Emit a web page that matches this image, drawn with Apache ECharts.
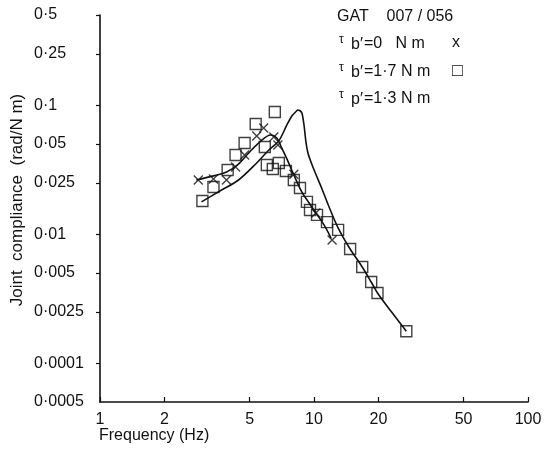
<!DOCTYPE html>
<html>
<head>
<meta charset="utf-8">
<script src="https://cdn.jsdelivr.net/npm/echarts@6/dist/echarts.min.js"></script>
<style>
  html, body { margin: 0; padding: 0; background: #fff; }
  #chart { width: 551px; height: 450px; }
</style>
</head>
<body>
<div id="chart"></div>
<script>
// tick values and the labels printed in the figure (0.001 is printed as 0·0001)
const xTicks = [1, 2, 5, 10, 20, 50, 100];
const yTicks = [0.0005, 0.001, 0.0025, 0.005, 0.01, 0.025, 0.05, 0.1, 0.25, 0.5];
const yTickLabels = ['0·0005', '0·0001', '0·0025', '0·005', '0·01', '0·025', '0·05', '0·1', '0·25', '0·5'];

// tau b' = 0 Nm (crosses)
const crossFreq = [2.88, 3.39, 3.90, 4.30, 4.74, 5.40, 5.82, 6.49, 6.78, 8.05, 10.2, 12.15];
const crossComp = [0.0263, 0.0268, 0.0263, 0.0332, 0.0411, 0.0577, 0.0665, 0.0566, 0.0491, 0.0292, 0.0146, 0.0090];

// tau b' = 1.7 Nm (squares)
const squareFreq = [3.01, 3.39, 3.95, 4.30, 4.74, 5.34, 6.56, 5.89, 6.02, 6.42, 6.85, 7.39, 8.05, 8.60, 9.27, 9.58, 10.33, 11.5, 12.96, 14.75, 16.8, 18.5, 19.8, 27.0];
const squareComp = [0.0181, 0.0232, 0.0314, 0.0411, 0.0509, 0.0714, 0.0885, 0.0474, 0.0344, 0.0320, 0.0356, 0.0309, 0.0263, 0.0228, 0.0178, 0.0154, 0.0141, 0.0124, 0.0108, 0.00767, 0.00557, 0.00426, 0.0035, 0.00177];

// fitted curves
const curveAFreq = [2.82, 3.39, 3.90, 4.44, 4.95, 5.64, 6.28, 6.70, 7.00, 7.47, 8.05, 8.78, 9.47, 10.2, 11.14, 12.02];
const curveAComp = [0.0263, 0.0283, 0.0303, 0.0350, 0.0426, 0.0527, 0.0587, 0.0557, 0.0482, 0.0383, 0.0288, 0.0212, 0.0175, 0.0146, 0.0118, 0.0093];
const curveBFreq = [2.98, 3.70, 4.44, 5.34, 6.15, 6.85, 7.47, 7.88, 8.23, 8.41, 8.60, 8.78, 8.98, 9.17, 9.37, 9.68, 10.1, 10.9, 11.75, 12.96, 14.75, 16.8, 18.5, 19.8, 23.0, 27.0];
const curveBComp = [0.0178, 0.0220, 0.0263, 0.0350, 0.0449, 0.0530, 0.0702, 0.0824, 0.0890, 0.0917, 0.0905, 0.0869, 0.0702, 0.0518, 0.0426, 0.0363, 0.0303, 0.0224, 0.0163, 0.0112, 0.00767, 0.00557, 0.00426, 0.0035, 0.0025, 0.00177];

const zip = (a, b) => a.map((v, i) => [v, b[i]]);
const FONT = 'Liberation Sans';
const INK = '#111';

function yLabel(v) {
  for (let i = 0; i < yTicks.length; i++) {
    if (Math.abs(Math.log10(v) - Math.log10(yTicks[i])) < 1e-4) return yTickLabels[i];
  }
  return '';
}

const chart = echarts.init(document.getElementById('chart'));

const txt = (left, top, text, size) => ({
  type: 'text', left, top,
  style: { text, fill: INK, font: size + 'px "' + FONT + '"' }
});

chart.setOption({
  backgroundColor: '#fff',
  animation: false,
  grid: { left: 100, right: 23, top: 15, bottom: 48 },
  xAxis: {
    type: 'log', min: 1, max: 100, logBase: 10,
    axisLine: { lineStyle: { color: INK, width: 1.6 } },
    axisTick: { show: true, inside: true, length: 5, customValues: xTicks, lineStyle: { color: INK, width: 1.2 } },
    minorTick: { show: false },
    splitLine: { show: false },
    axisLabel: { customValues: xTicks, color: INK, fontFamily: FONT, fontSize: 16, margin: 10 }
  },
  yAxis: {
    type: 'log', min: 0.0005, max: 0.5, logBase: 10,
    axisLine: { lineStyle: { color: INK, width: 1.6 } },
    axisTick: { show: true, length: 4, customValues: yTicks.slice(1), lineStyle: { color: INK, width: 1.2 } },
    splitLine: { show: false },
    axisLabel: {
      customValues: yTicks, color: INK, fontFamily: FONT, fontSize: 16,
      align: 'left', margin: 66, formatter: yLabel
    }
  },
  series: [
    {
      type: 'line', data: zip(curveAFreq, curveAComp), smooth: 0.35,
      showSymbol: false, lineStyle: { color: INK, width: 1.6 }
    },
    {
      type: 'line', data: zip(curveBFreq, curveBComp), smooth: 0.3,
      showSymbol: false, lineStyle: { color: INK, width: 1.6 }
    },
    {
      type: 'scatter', data: zip(crossFreq, crossComp),
      symbol: 'path://M0,0L10,10M10,0L0,10', symbolSize: 9,
      itemStyle: { color: 'none', borderColor: INK, borderWidth: 1.4 }
    },
    {
      type: 'scatter', data: zip(squareFreq, squareComp),
      symbol: 'rect', symbolSize: 11,
      itemStyle: { color: 'rgba(255,255,255,0)', borderColor: INK, borderWidth: 1.4 }
    }
  ],
  graphic: [
    txt(337, 9, 'GAT    007 / 056', 16),
    txt(339, 34, 'τ', 12), txt(351, 37, 'b′', 16), txt(364, 36, '=0   N m', 16), txt(452, 35, 'x', 16),
    txt(339, 62, 'τ', 12), txt(351, 65, 'b′', 16), txt(364, 64, '=1·7 N m', 16), txt(452, 62, '□', 18),
    txt(339, 89, 'τ', 12), txt(351, 92, 'p′', 16), txt(364, 91, '=1·3 N m', 16),
    txt(99, 428, 'Frequency (Hz)', 16),
    {
      type: 'text', x: 17, y: 200, rotation: Math.PI / 2,
      style: {
        text: 'Joint  compliance  (rad/N m)', fill: INK, font: '17px "' + FONT + '"',
        align: 'center', verticalAlign: 'middle'
      }
    }
  ]
});
</script>
</body>
</html>
